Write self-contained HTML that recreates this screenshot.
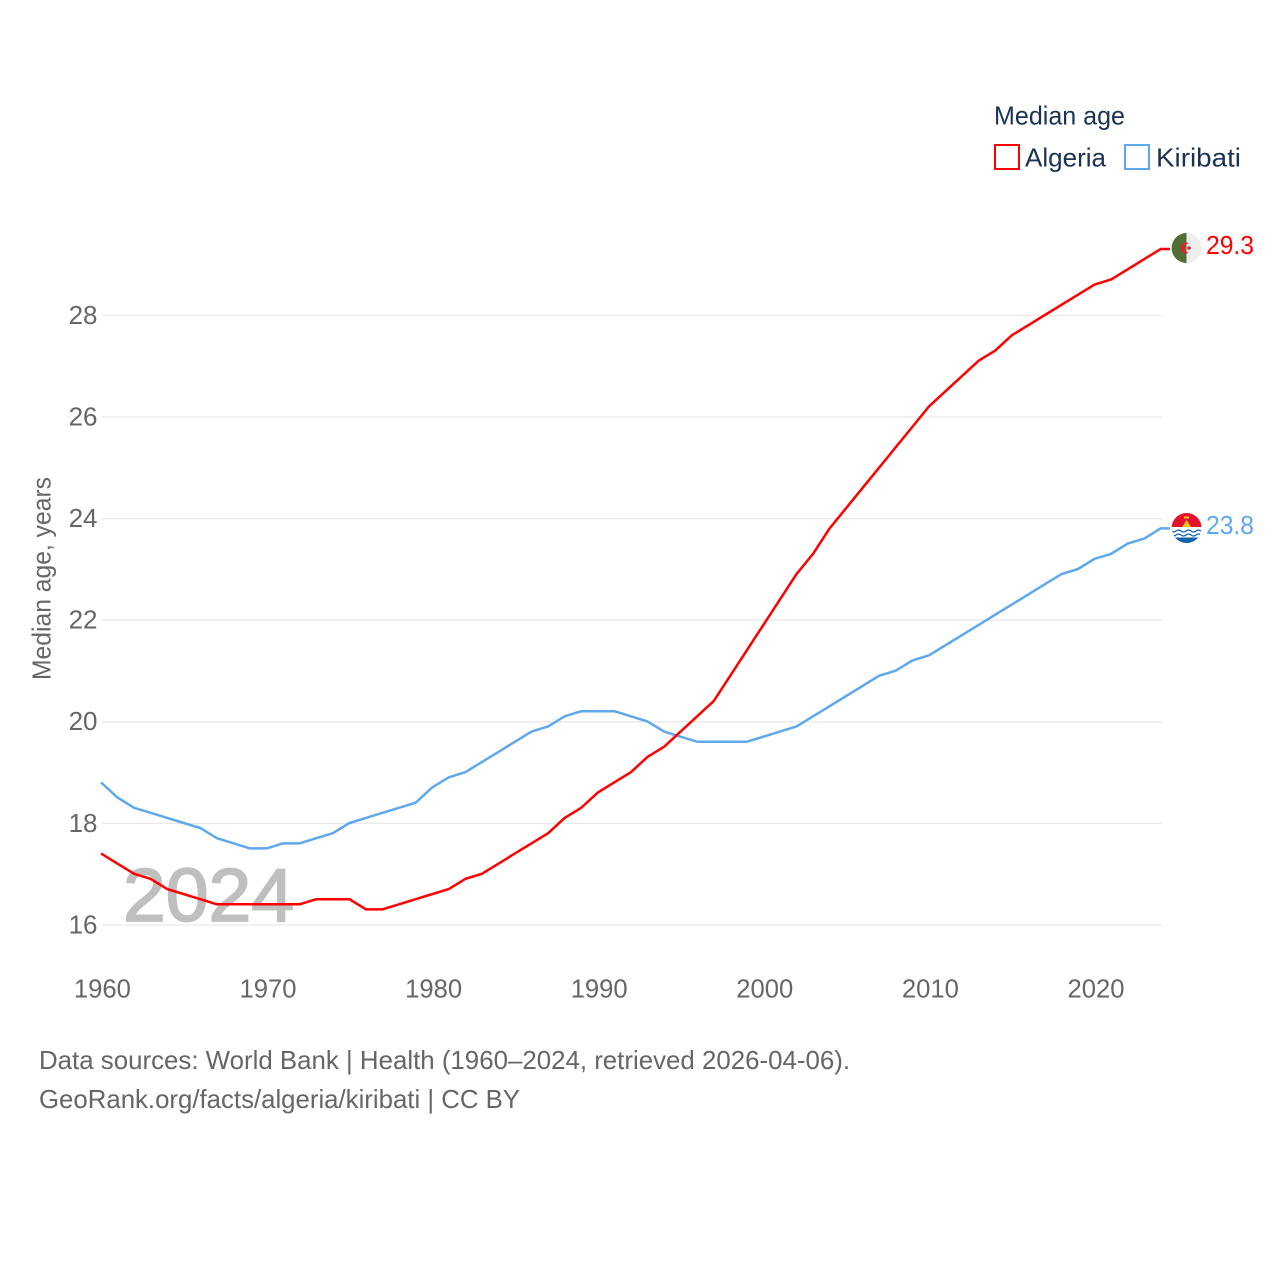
<!DOCTYPE html>
<html lang="en">
<head>
<meta charset="utf-8">
<title>Median age: Algeria and Kiribati</title>
<style>
html,body{margin:0;padding:0;background:#fff;width:1280px;height:1280px;overflow:hidden}
svg{display:block}
text{font-family:"Liberation Sans",sans-serif;font-size:26px}
</style>
</head>
<body>
<svg id="chart" width="1280" height="1280" viewBox="0 0 1280 1280" xmlns="http://www.w3.org/2000/svg">
  <rect width="1280" height="1280" fill="#fff"/>
  <g id="grid"></g>
  <g id="y-ticks"></g>
  <g id="x-ticks"></g>
  <text transform="translate(50.5,680) rotate(-90)" fill="#666" textLength="203" lengthAdjust="spacingAndGlyphs">Median age, years</text>
  <text x="123" y="921" fill="#bfbfbf" stroke="#bfbfbf" stroke-width="1.8" style="font-size:75px" textLength="171" lengthAdjust="spacingAndGlyphs">2024</text>
  <g id="series"></g>

  <g>
    <text x="994" y="124.5" fill="#1a3253" textLength="131" lengthAdjust="spacingAndGlyphs">Median age</text>
    <g>
      <rect x="995" y="145" width="24" height="24" fill="none" stroke="#ff0000" stroke-width="2"/>
      <text x="1025" y="166.5" fill="#1a3253" textLength="81" lengthAdjust="spacingAndGlyphs">Algeria</text>
    </g>
    <g>
      <rect x="1125" y="145" width="24" height="24" fill="none" stroke="#5ea8ee" stroke-width="2"/>
      <text x="1156" y="166.5" fill="#1a3253" textLength="85" lengthAdjust="spacingAndGlyphs">Kiribati</text>
    </g>
  </g>

  <defs>
    <clipPath id="clip-algeria"><circle cx="1186.6" cy="248" r="15"/></clipPath>
    <clipPath id="clip-kiribati"><circle cx="1186.6" cy="528" r="15"/></clipPath>
  </defs>
  <g clip-path="url(#clip-algeria)">
    <rect x="1171" y="233" width="15.5" height="30" fill="#4f6f35"/>
    <rect x="1186.5" y="233" width="15" height="30" fill="#efefef"/>
    <path d="M1189 243.4 A5.5 5.5 0 1 0 1189 252.6 A4.5 4.5 0 1 1 1189 243.4 Z" fill="#e0222c"/>
    <circle cx="1189" cy="248" r="1.8" fill="#e0222c"/>
  </g>
  <text id="value-algeria" x="1206" y="254" fill="#ff0000" textLength="48" lengthAdjust="spacingAndGlyphs">29.3</text>

  <g clip-path="url(#clip-kiribati)">
    <rect x="1171" y="512" width="31" height="16" fill="#e3132c"/>
    <path d="M1182 527 L1186.6 520 L1191.2 527 Z" fill="#f6c21c"/>
    <rect x="1184" y="516.5" width="5" height="2" fill="#f6c21c"/>
    <rect x="1171" y="527" width="31" height="11" fill="#fff"/>
    <path d="M1171 531 q2.5 2 5 0 t5 0 t5 0 t5 0 t5 0 t5 0" fill="none" stroke="#1560ad" stroke-width="1.2"/>
    <path d="M1171 535 q2.5 2 5 0 t5 0 t5 0 t5 0 t5 0 t5 0" fill="none" stroke="#1560ad" stroke-width="1.2"/>
    <rect x="1171" y="537.5" width="31" height="7" fill="#1560ad"/>
  </g>
  <text id="value-kiribati" x="1206" y="534" fill="#5ea8ee" textLength="48" lengthAdjust="spacingAndGlyphs">23.8</text>

  <text x="39" y="1069" fill="#666" textLength="811" lengthAdjust="spacingAndGlyphs">Data sources: World Bank | Health (1960–2024, retrieved 2026-04-06).</text>
  <a><text x="39" y="1108" fill="#666" textLength="481" lengthAdjust="spacingAndGlyphs">GeoRank.org/facts/algeria/kiribati | CC BY</text></a>
</svg>
<script>
const years = [1960,1961,1962,1963,1964,1965,1966,1967,1968,1969,1970,1971,1972,1973,1974,1975,1976,1977,1978,1979,1980,1981,1982,1983,1984,1985,1986,1987,1988,1989,1990,1991,1992,1993,1994,1995,1996,1997,1998,1999,2000,2001,2002,2003,2004,2005,2006,2007,2008,2009,2010,2011,2012,2013,2014,2015,2016,2017,2018,2019,2020,2021,2022,2023,2024];
const algeria = [17.4,17.2,17.0,16.9,16.7,16.6,16.5,16.4,16.4,16.4,16.4,16.4,16.4,16.5,16.5,16.5,16.3,16.3,16.4,16.5,16.6,16.7,16.9,17.0,17.2,17.4,17.6,17.8,18.1,18.3,18.6,18.8,19.0,19.3,19.5,19.8,20.1,20.4,20.9,21.4,21.9,22.4,22.9,23.3,23.8,24.2,24.6,25.0,25.4,25.8,26.2,26.5,26.8,27.1,27.3,27.6,27.8,28.0,28.2,28.4,28.6,28.7,28.9,29.1,29.3];
const kiribati = [18.8,18.5,18.3,18.2,18.1,18.0,17.9,17.7,17.6,17.5,17.5,17.6,17.6,17.7,17.8,18.0,18.1,18.2,18.3,18.4,18.7,18.9,19.0,19.2,19.4,19.6,19.8,19.9,20.1,20.2,20.2,20.2,20.1,20.0,19.8,19.7,19.6,19.6,19.6,19.6,19.7,19.8,19.9,20.1,20.3,20.5,20.7,20.9,21.0,21.2,21.3,21.5,21.7,21.9,22.1,22.3,22.5,22.7,22.9,23.0,23.2,23.3,23.5,23.6,23.8];
const yTickValues = [16,18,20,22,24,26,28];
const xTickValues = [1960,1970,1980,1990,2000,2010,2020];

const SVG_NS = 'http://www.w3.org/2000/svg';
const xScale = yr => 101 + (yr - 1960) * 16.56;
const yScale = v => 924.6 - (v - 16) * 50.8;

const gridGroup = document.getElementById('grid');
const yTickGroup = document.getElementById('y-ticks');
const xTickGroup = document.getElementById('x-ticks');
const seriesGroup = document.getElementById('series');

yTickValues.forEach(v => {
  const line = document.createElementNS(SVG_NS, 'line');
  
  
  line.setAttribute('x1', 102);
  line.setAttribute('x2', 1162);
  line.setAttribute('y1', yScale(v) + 0.4);
  line.setAttribute('y2', yScale(v) + 0.4);
  line.setAttribute('stroke', '#e9e9e9');
  line.setAttribute('stroke-width', '1.3');
  gridGroup.appendChild(line);

  const label = document.createElementNS(SVG_NS, 'text');
  
  
  label.setAttribute('x', 97.5);
  label.setAttribute('y', yScale(v) + 8.8);
  label.setAttribute('text-anchor', 'end');
  label.setAttribute('fill', '#666');
  label.textContent = v;
  yTickGroup.appendChild(label);
});

xTickValues.forEach(yr => {
  const label = document.createElementNS(SVG_NS, 'text');
  
  
  label.setAttribute('x', xScale(yr) + 1.4);
  label.setAttribute('y', 997.5);
  label.setAttribute('text-anchor', 'middle');
  label.setAttribute('fill', '#666');
  label.setAttribute('textLength', '57');
  label.setAttribute('lengthAdjust', 'spacingAndGlyphs');
  label.textContent = yr;
  xTickGroup.appendChild(label);
});

function drawSeries(values, color, name) {
  const pts = values.map((v, i) => xScale(years[i]).toFixed(2) + ',' + yScale(v).toFixed(2));
  const last = values[values.length - 1];
  pts.push('1170,' + yScale(last).toFixed(2));
  const line = document.createElementNS(SVG_NS, 'polyline');
  
  
  line.setAttribute('points', pts.join(' '));
  line.setAttribute('fill', 'none');
  line.setAttribute('stroke', color);
  line.setAttribute('stroke-width', '2.5');
  line.setAttribute('stroke-linejoin', 'round');
  seriesGroup.appendChild(line);
}
drawSeries(kiribati, '#5ea8ee', 'line-kiribati');
drawSeries(algeria, '#ff0000', 'line-algeria');
</script>
</body>
</html>
